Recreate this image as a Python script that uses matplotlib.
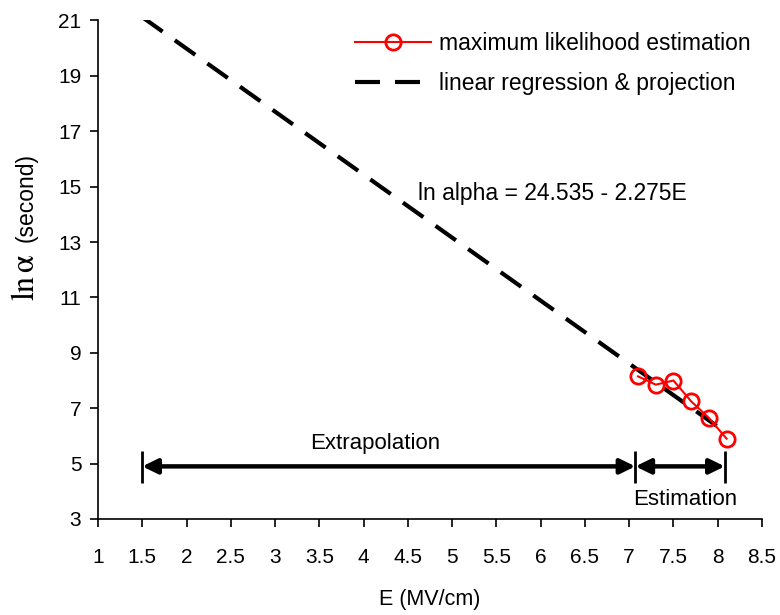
import matplotlib
matplotlib.use("Agg")
import matplotlib.pyplot as plt
import numpy as np

plt.rcParams['font.family'] = ['Liberation Sans', 'DejaVu Sans']
plt.rcParams['mathtext.fontset'] = 'stix'

# maximum likelihood estimates of ln(alpha) at each field
field = [7.1, 7.3, 7.5, 7.7, 7.9, 8.1]
ln_alpha = [8.15, 7.85, 8.0, 7.25, 6.65, 5.9]

# regression coefficients: ln alpha = intercept - slope * E
intercept = 24.535
slope = 2.275
fit_range = [1.5, 8.1]

# extrapolation / estimation brackets
bracket_x = [1.5, 7.07, 8.08]
bracket_y = 4.9

xticks = [1, 1.5, 2, 2.5, 3, 3.5, 4, 4.5, 5, 5.5, 6, 6.5, 7, 7.5, 8, 8.5]
yticks = [3, 5, 7, 9, 11, 13, 15, 17, 19, 21]

fig = plt.figure(figsize=(7.8, 6.15), dpi=100)
ax = fig.add_axes([0.1256, 0.1561, 0.9769 - 0.1256, 0.9667 - 0.1561])

fx = np.array(fit_range)
ax.plot(fx, intercept - slope * fx, color='black', lw=3,
        dashes=(6, 3.6), label='linear regression & projection', zorder=2)
ax.plot(field, ln_alpha, color='red', lw=1.5, marker='o', ms=11,
        mfc='none', mec='red', mew=2, label='maximum likelihood estimation', zorder=3)

# double-headed arrows with end bars
for x0, x1 in zip(bracket_x[:-1], bracket_x[1:]):
    ax.annotate('', xy=(x1, bracket_y), xytext=(x0, bracket_y),
                arrowprops=dict(arrowstyle='<|-|>,head_length=0.45,head_width=0.22',
                                color='black', lw=3.2, shrinkA=0, shrinkB=0,
                                mutation_scale=20))
ax.vlines(bracket_x, 4.3, 5.45, color='black', lw=2)

ax.text(4.13, 5.74, 'Extrapolation', ha='center', va='center', fontsize=16)
ax.text(7.63, 3.69, 'Estimation', ha='center', va='center', fontsize=16)
ax.text(4.62, 14.77, 'ln alpha = 24.535 - 2.275E', ha='left', va='center', fontsize=16.5)

ax.set_xlim(1, 8.5)
ax.set_ylim(3, 21)
ax.set_xticks(xticks)
ax.set_xticklabels([f'{t:g}' for t in xticks])
ax.set_yticks(yticks)
for s in ['top', 'right']:
    ax.spines[s].set_visible(False)
for s in ['left', 'bottom']:
    ax.spines[s].set_linewidth(1.2)
ax.tick_params(axis='x', direction='out', length=6, width=1.2, pad=15, labelsize=15)
ax.tick_params(axis='y', direction='out', length=6, width=1.2, pad=6, labelsize=15)

ax.set_xlabel('E (MV/cm)', fontsize=15.5)
ax.xaxis.set_label_coords(0.5, -0.14)

fig.text(26 / 780, 1 - 277 / 615, r'$\mathrm{ln}\,\mathrm{\alpha}$', rotation=90,
         ha='center', va='center', fontsize=23)
fig.text(26 / 780, 1 - 197 / 615, '(second)', rotation=90,
         ha='center', va='center', fontsize=16.5)

h, l = ax.get_legend_handles_labels()
ax.legend(h[::-1], l[::-1], loc='upper left', bbox_to_anchor=(355 / 780, 1 - 32 / 615),
          bbox_transform=fig.transFigure, frameon=False, fontsize=16.5,
          handlelength=3.3, handletextpad=0.35, labelspacing=0.75,
          borderpad=0, borderaxespad=0)

fig.savefig('out.png', dpi=100)
